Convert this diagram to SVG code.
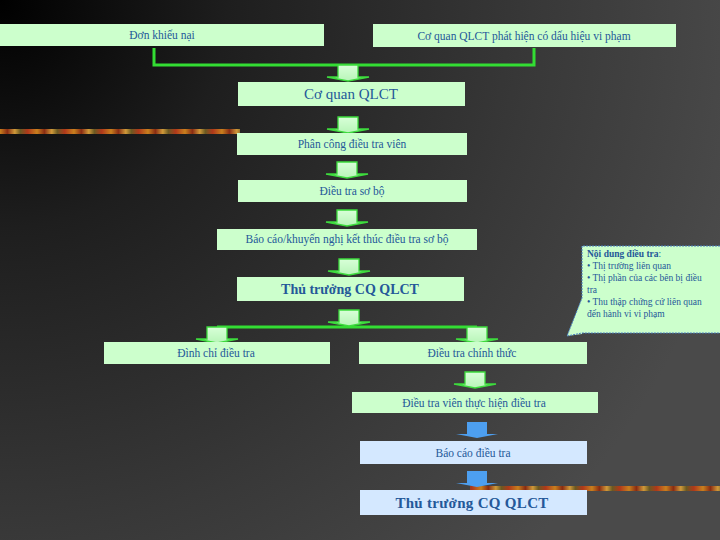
<svg xmlns="http://www.w3.org/2000/svg" xmlns:xlink="http://www.w3.org/1999/xlink" width="720" height="540" viewBox="0 0 720 540">
<defs>
<radialGradient id="bg" cx="0" cy="0" r="760" gradientUnits="userSpaceOnUse">
<stop offset="0" stop-color="#000000"/>
<stop offset="0.3" stop-color="#1e1e1e"/>
<stop offset="0.7" stop-color="#383838"/>
<stop offset="1" stop-color="#4a4a4a"/>
</radialGradient>
<linearGradient id="stripe" x1="0" y1="0" x2="37" y2="0" gradientUnits="userSpaceOnUse" spreadMethod="repeat">
<stop offset="0" stop-color="#c8801e"/>
<stop offset="0.2" stop-color="#8a2c12"/>
<stop offset="0.4" stop-color="#d09a3a"/>
<stop offset="0.55" stop-color="#6b5a22"/>
<stop offset="0.75" stop-color="#b0381a"/>
<stop offset="1" stop-color="#c8801e"/>
</linearGradient>
<linearGradient id="gbody" x1="0" y1="0" x2="0" y2="1">
<stop offset="0" stop-color="#d8ffd8"/>
<stop offset="1" stop-color="#b8f5b8"/>
</linearGradient>
<path id="arr" d="M-10,0 H10 V12 H21 L0,16 L-21,12 H-10 Z"/>
<style>
.bg{fill:url(#bg)}
.stripe{fill:url(#stripe)}
.g{fill:#ccffcc}
.b{fill:#d4e8ff}
.t{font-family:"Liberation Serif","Times New Roman",serif;font-size:11.5px;fill:#245899;text-anchor:middle}
.big{font-size:15px}
.bold{font-weight:bold;font-size:14px}
.bold2{font-weight:bold;font-size:15px;letter-spacing:0.3px}
.ga{fill:url(#gbody);stroke:#3ddc3d;stroke-width:1.3}
.ba{fill:#4d9ff0}
.line{fill:none;stroke:#33dd33;stroke-width:3}
.ct{font-family:"Liberation Serif","Times New Roman",serif;font-size:9.5px;fill:#245899}
</style>
</defs>
<rect class="bg" x="0" y="0" width="720" height="540"/>
<rect class="stripe" x="0" y="129" width="240" height="5"/>
<rect class="stripe" x="470" y="486" width="250" height="5"/>

<g id="connectors">
<path class="line" d="M154,48 V65 H534 V48"/>
<path class="line" d="M217,327 H477"/>
<use xlink:href="#arr" class="ga" x="348" y="65"/>
<use xlink:href="#arr" class="ga" x="348" y="117"/>
<use xlink:href="#arr" class="ga" x="347" y="162"/>
<use xlink:href="#arr" class="ga" x="347" y="210"/>
<use xlink:href="#arr" class="ga" x="349" y="259"/>
<use xlink:href="#arr" class="ga" x="349" y="310"/>
<use xlink:href="#arr" class="ga" x="217" y="327"/>
<use xlink:href="#arr" class="ga" x="477" y="327"/>
<use xlink:href="#arr" class="ga" x="475" y="372"/>
<use xlink:href="#arr" class="ba" x="477" y="422"/>
<use xlink:href="#arr" class="ba" x="477" y="471"/>
</g>

<g id="n1"><rect class="g" x="0" y="24" width="324" height="22"/><text class="t" x="162" y="39">Đơn khiếu nại</text></g>
<g id="n2"><rect class="g" x="373" y="24" width="303" height="23"/><text class="t" x="524" y="40">Cơ quan QLCT phát hiện có dấu hiệu vi phạm</text></g>
<g id="n3"><rect class="g" x="238" y="82" width="227" height="24"/><text class="t big" x="351" y="99">Cơ quan QLCT</text></g>
<g id="n4"><rect class="g" x="237" y="133" width="230" height="22"/><text class="t" x="352" y="148">Phân công điều tra viên</text></g>
<g id="n5"><rect class="g" x="238" y="180" width="229" height="22"/><text class="t" x="352" y="195">Điều tra sơ bộ</text></g>
<g id="n6"><rect class="g" x="217" y="229" width="260" height="21"/><text class="t" x="347" y="243">Báo cáo/khuyến nghị kết thúc điều tra sơ bộ</text></g>
<g id="n7"><rect class="g" x="237" y="277" width="227" height="24"/><text class="t bold" x="350" y="294">Thủ trưởng CQ QLCT</text></g>
<g id="n8"><rect class="g" x="104" y="342" width="226" height="22"/><text class="t" x="216" y="357">Đình chỉ điều tra</text></g>
<g id="n9"><rect class="g" x="359" y="342" width="228" height="22"/><text class="t" x="472" y="357">Điều tra chính thức</text></g>
<g id="n10"><rect class="g" x="352" y="392" width="246" height="21"/><text class="t" x="474" y="407">Điều tra viên thực hiện điều tra</text></g>
<g id="n11"><rect class="b" x="360" y="441" width="227" height="23"/><text class="t" x="473" y="457">Báo cáo điều tra</text></g>
<g id="n12"><rect class="b" x="360" y="490" width="227" height="25"/><text class="t bold2" x="472" y="508">Thủ trưởng CQ QLCT</text></g>

<g id="callout">
<path d="M582,246 H720 V333 H582 V334 L567,336 L582,298 Z" fill="#ccffcc"/>
<path d="M720,246 H582 V298 L567,336 L582,333 H720" fill="none" stroke="#4a7fc0" stroke-width="1" stroke-dasharray="2,1"/>
<text class="ct" x="587" y="257"><tspan font-weight="bold">Nội dung điều tra</tspan>:</text>
<text class="ct" x="587" y="269">• Thị trường liên quan</text>
<text class="ct" x="587" y="281">• Thị phần của các bên bị điều</text>
<text class="ct" x="587" y="293">tra</text>
<text class="ct" x="587" y="305">• Thu thập chứng cứ liên quan</text>
<text class="ct" x="587" y="317">đến hành vi vi phạm</text>
</g>
</svg>
